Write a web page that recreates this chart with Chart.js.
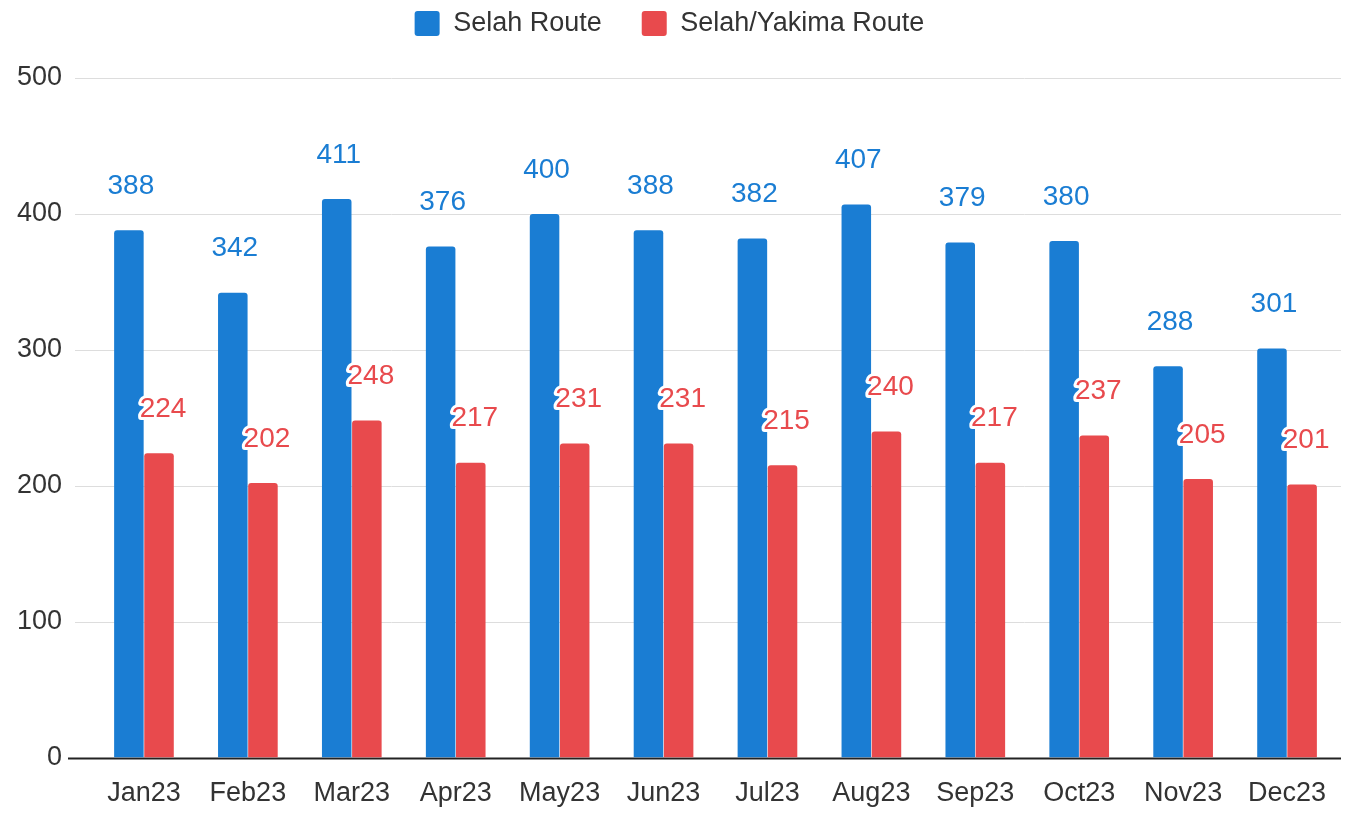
<!DOCTYPE html>
<html><head><meta charset="utf-8">
<script src="https://cdn.jsdelivr.net/npm/chart.js@4.4.1/dist/chart.umd.min.js"></script>
<style>html,body{margin:0;padding:0;background:#fff}#wrap{width:1353px;height:815px}</style>
</head><body><div id="wrap"><canvas id="c"></canvas></div>
<script>
const categories = ["Jan23","Feb23","Mar23","Apr23","May23","Jun23","Jul23","Aug23","Sep23","Oct23","Nov23","Dec23"];
const selahRoute = [388,342,411,376,400,388,382,407,379,380,288,301];
const selahYakimaRoute = [224,202,248,217,231,231,215,240,217,237,205,201];
const seriesNames = ["Selah Route","Selah/Yakima Route"];
const yTicks = [0,100,200,300,400,500];
const BLUE = "#1a7dd3", RED = "#e84a4d";
const FONT = '"Liberation Sans", Arial, sans-serif';

const legendMargin = {
  id: 'legendMargin',
  beforeInit(chart) {
    const orig = chart.legend.fit;
    chart.legend.fit = function() { orig.call(this); this.height += 31; };
  }
};

const gridPlugin = {
  id: 'customGrid',
  beforeDatasetsDraw(chart) {
    const ctx = chart.ctx, y = chart.scales.y, area = chart.chartArea;
    ctx.save();
    yTicks.forEach(v => {
      const py = Math.round(y.getPixelForValue(v)) + 0.5;
      ctx.beginPath();
      if (v === 0) { ctx.strokeStyle = '#222'; ctx.lineWidth = 2; ctx.moveTo(68, py); }
      else { ctx.strokeStyle = '#dddddd'; ctx.lineWidth = 1; ctx.moveTo(75, py); }
      ctx.lineTo(area.right + 2, py);
      ctx.stroke();
    });
    ctx.restore();
  }
};

const labelPlugin = {
  id: 'barLabels',
  afterDatasetsDraw(chart) {
    const ctx = chart.ctx;
    ctx.save();
    ctx.font = '28px ' + FONT;
    ctx.textAlign = 'center';
    ctx.textBaseline = 'middle';
    chart.data.datasets.forEach((ds, di) => {
      const meta = chart.getDatasetMeta(di);
      meta.data.forEach((bar, i) => {
        const x = di === 0 ? bar.x + 2 : bar.x + 4;
        const y = bar.y - 44;
        const t = String(ds.data[i]);
        ctx.lineJoin = 'round';
        ctx.lineWidth = 6;
        ctx.strokeStyle = '#fff';
        ctx.strokeText(t, x, y);
        ctx.fillStyle = ds.backgroundColor;
        ctx.fillText(t, x, y);
      });
    });
    ctx.restore();
  }
};

new Chart(document.getElementById('c'), {
  type: 'bar',
  data: {
    labels: categories,
    datasets: [
      {label: seriesNames[0], data: selahRoute, backgroundColor: BLUE, borderRadius: {topLeft:3, topRight:3}, borderSkipped: 'bottom'},
      {label: seriesNames[1], data: selahYakimaRoute, backgroundColor: RED, borderRadius: {topLeft:3, topRight:3}, borderSkipped: 'bottom'}
    ]
  },
  options: {
    responsive: true, maintainAspectRatio: false, animation: false,
    layout: {padding: {left: 0, right: 14, top: -30, bottom: -7}},
    datasets: {bar: {categoryPercentage: 0.58, barPercentage: 0.98}},
    plugins: {
      legend: {
        position: 'top',
        labels: {font: {size: 27, family: FONT}, color: '#333', boxWidth: 25, boxHeight: 25, useBorderRadius: true, borderRadius: 3, padding: 40},
      },
      tooltip: {enabled: false}
    },
    scales: {
      x: {
        grid: {display: false},
        border: {display: false},
        ticks: {font: {size: 27, family: FONT}, color: '#333', padding: 12}
      },
      y: {
        min: 0, max: 500,
        afterFit(scale) { scale.width = 92; },
        ticks: {stepSize: 100, font: {size: 27, family: FONT}, color: '#333', padding: 22},
        grid: {display: false},
        border: {display: false}
      }
    }
  },
  plugins: [legendMargin, gridPlugin, labelPlugin]
});
</script></body></html>
